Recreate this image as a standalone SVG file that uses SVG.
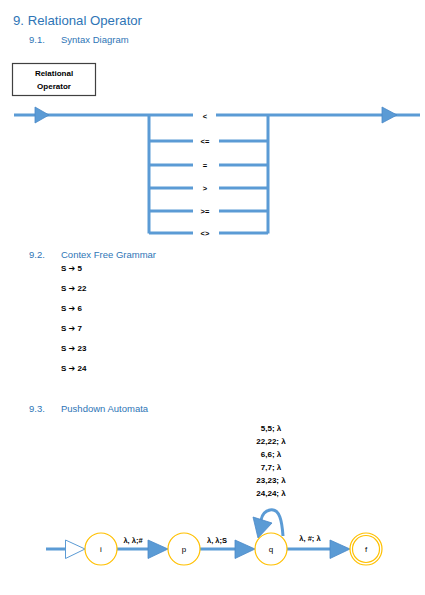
<svg xmlns="http://www.w3.org/2000/svg" width="425" height="595" viewBox="0 0 425 595">
<style>
.h{font-family:"Liberation Sans",Arial,sans-serif;fill:#2E75B6}
.t{font-family:"Liberation Sans",Arial,sans-serif;font-weight:bold;font-size:7.5px;fill:#000}
.n{font-family:"Liberation Sans",Arial,sans-serif;font-size:8px;fill:#000}
.ar{font-family:"DejaVu Sans",sans-serif}
.ln{stroke:#5B9BD5;stroke-width:3;fill:none}
.st{fill:#fff;stroke:#FFC000;stroke-width:1.2}
.ah{fill:#5B9BD5;stroke:#4A89C8;stroke-width:0.8}
</style>
<rect width="425" height="595" fill="#fff"/>
<text class="h" x="13" y="25" font-size="13.2">9. Relational Operator</text>
<text class="h" x="29" y="43" font-size="9.5">9.1.</text>
<text class="h" x="61" y="43" font-size="9.5">Syntax Diagram</text>
<g id="box">
<rect x="12.5" y="63.5" width="83" height="32" fill="#fff" stroke="#404040" stroke-width="1.2"/>
<text class="t" x="54" y="76" text-anchor="middle" style="font-size:8px">Relational</text>
<text class="t" x="54" y="88.5" text-anchor="middle" style="font-size:8px">Operator</text>
</g>
<g id="syntax">
<path class="ln" d="M14 115H193M216 115H420M149 115V233.5M268 115V233.5M149 141H193M219 141H268M149 165H193M219 165H268M149 188H193M219 188H268M149 211H193M219 211H268M149 233H193M219 233H268"/>
<polygon class="ah" points="35,107 49,115 35,123"/>
<polygon class="ah" points="382,107 397,115 382,123"/>
<text class="t" x="205" y="118.5" text-anchor="middle">&lt;</text>
<text class="t" x="205" y="143.5" text-anchor="middle">&lt;=</text>
<text class="t" x="205" y="167.5" text-anchor="middle">=</text>
<text class="t" x="205" y="190.5" text-anchor="middle">&gt;</text>
<text class="t" x="205" y="214" text-anchor="middle">&gt;=</text>
<text class="t" x="205" y="236" text-anchor="middle">&lt;&gt;</text>
</g>
<text class="h" x="29" y="258" font-size="9.5">9.2.</text>
<text class="h" x="61" y="258" font-size="9.5">Contex Free Grammar</text>
<g id="grammar" class="t" style="font-size:8px">
<text x="61" y="271">S <tspan class="ar">➔</tspan> 5</text>
<text x="61" y="291">S <tspan class="ar">➔</tspan> 22</text>
<text x="61" y="311">S <tspan class="ar">➔</tspan> 6</text>
<text x="61" y="331">S <tspan class="ar">➔</tspan> 7</text>
<text x="61" y="351">S <tspan class="ar">➔</tspan> 23</text>
<text x="61" y="371">S <tspan class="ar">➔</tspan> 24</text>
</g>
<text class="h" x="29" y="412" font-size="9.5">9.3.</text>
<text class="h" x="61" y="412" font-size="9.5">Pushdown Automata</text>
<g id="connectors">
<path class="ln" d="M46 549H66M117 549H150M200 549H237M287 549H332"/>
<polygon points="65.5,540 85,549 65.5,558.5" fill="#fff" stroke="#5B9BD5" stroke-width="1"/>
<polygon class="ah" points="148,540 168,549 148,558.5"/>
<polygon class="ah" points="235,540 255,549 235,558.5"/>
<polygon class="ah" points="330,540 350,549 330,558.5"/>
<path class="ln" d="M283 536C282 522 280 508 270 510C265 511 262 515 261 520"/>
<polygon class="ah" points="253,517 272,523 258,538"/>
<text class="t" x="133" y="543" text-anchor="middle">λ, λ;#</text>
<text class="t" x="217" y="543" text-anchor="middle">λ, λ;S</text>
<text class="t" x="310" y="541" text-anchor="middle">λ, #; λ</text>
<g class="t" style="font-size:8px" text-anchor="middle">
<text x="271" y="431">5,5; λ</text>
<text x="271" y="444">22,22; λ</text>
<text x="271" y="457">6,6; λ</text>
<text x="271" y="470">7,7; λ</text>
<text x="271" y="483">23,23; λ</text>
<text x="271" y="496">24,24; λ</text>
</g>
</g>
<g id="i"><circle class="st" cx="101" cy="549" r="16"/><text class="n" x="101" y="552" text-anchor="middle">i</text></g>
<g id="p"><circle class="st" cx="184" cy="549" r="16"/><text class="n" x="184" y="552" text-anchor="middle">p</text></g>
<g id="q"><circle class="st" cx="271" cy="549" r="16"/><text class="n" x="271" y="552" text-anchor="middle">q</text></g>
<g id="f"><circle class="st" cx="366" cy="549" r="16"/><circle cx="366" cy="549" r="13.5" fill="none" stroke="#FFC000" stroke-width="1.2"/><text class="n" x="366" y="552" text-anchor="middle">f</text></g>
</svg>
